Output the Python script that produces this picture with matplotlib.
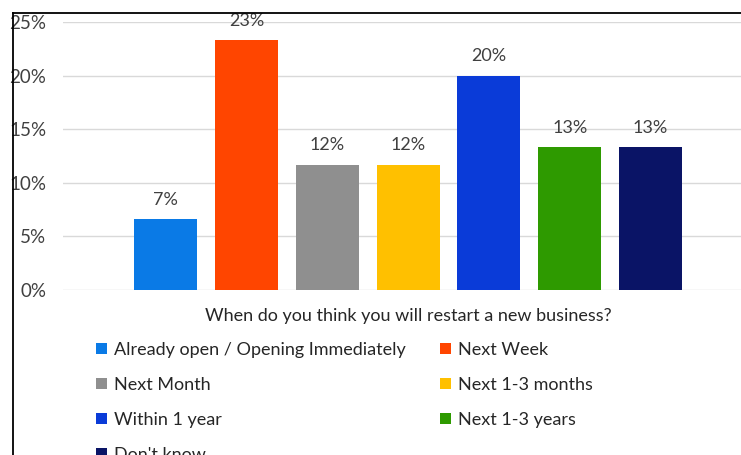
import matplotlib.pyplot as plt
from matplotlib.lines import Line2D
from matplotlib.ticker import PercentFormatter

plt.rcParams['font.family'] = ['Lato', 'DejaVu Sans']

# survey answers, share of respondents (%)
answers = ['Already open / Opening Immediately', 'Next Week', 'Next Month',
           'Next 1-3 months', 'Within 1 year', 'Next 1-3 years', "Don't know"]
shares = [6.6, 23.3, 11.7, 11.7, 20.0, 13.3, 13.3]
labels = ['7%', '23%', '12%', '12%', '20%', '13%', '13%']
colors = ['#0a7ae6', '#ff4500', '#8f8f8f', '#ffc000', '#0a3bd8', '#2e9a00', '#0a1466']
question = 'When do you think you will restart a new business?'

W, H = 741, 455
fig = plt.figure(figsize=(W / 100, H / 100), dpi=100)
ax = fig.add_axes([63 / W, (H - 290) / H, (W - 63) / W, 268 / H])

bars = []
for i, (v, c, name) in enumerate(zip(shares, colors, answers)):
    b = ax.bar(i, v, width=0.78, color=c, label=name, zorder=3)
    bars.append(b)
    ax.annotate(labels[i], (i, v), xytext=(0, 8), textcoords='offset points',
                ha='center', va='bottom', fontsize=13, color='#404040')

ax.set_xlim(-1.27, 7.12)
ax.set_ylim(0, 25)
ax.set_yticks([0, 5, 10, 15, 20, 25])
ax.yaxis.set_major_formatter(PercentFormatter(decimals=0))
ax.set_xticks([])
ax.grid(axis='y', color='#d9d9d9', linewidth=1, zorder=0)
for s in ax.spines.values():
    s.set_visible(False)
ax.tick_params(axis='y', length=0, pad=12, labelsize=13.5, labelcolor='#404040')

fig.text(408 / W, (H - 316) / H, question, ha='center', va='center',
         fontsize=13, color='#262626')

# legend is filled by column, so reorder to read row by row
order = [0, 2, 4, 6, 1, 3, 5]
leg = fig.legend([bars[i] for i in order], [answers[i] for i in order],
                 ncol=2, loc='upper left', bbox_to_anchor=(96 / W, (H - 342) / H),
                 frameon=False, fontsize=13, handlelength=0.6, handleheight=0.6,
                 handletextpad=0.4, columnspacing=1.9, labelspacing=1.05,
                 borderaxespad=0, borderpad=0)
for t in leg.get_texts():
    t.set_color('#262626')

# outer frame edges
fig.add_artist(Line2D([13 / W, 13 / W], [0, (H - 12.5) / H], color='black', lw=1.3))
fig.add_artist(Line2D([13 / W, 1], [(H - 12.5) / H, (H - 12.5) / H], color='black', lw=1.3))

fig.savefig('out.png', dpi=100)
